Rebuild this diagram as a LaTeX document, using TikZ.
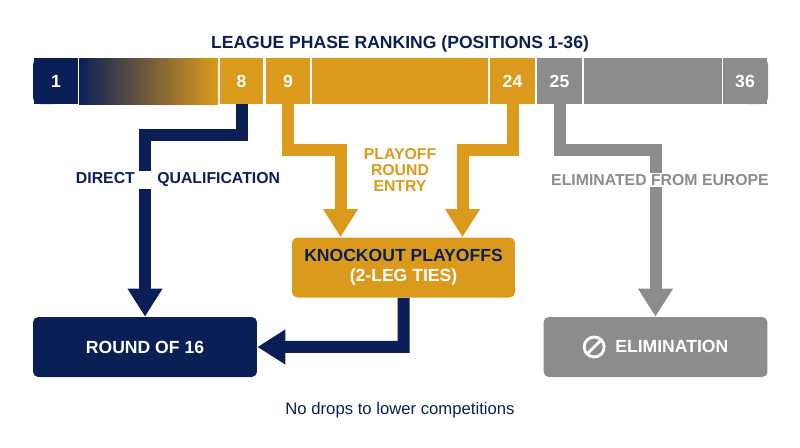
\documentclass[tikz,border=0pt]{standalone}
\usepackage{fontspec}
\setmainfont{Liberation Sans}
\usetikzlibrary{positioning,arrows.meta,calc}
\definecolor{navy}{HTML}{0B1F57}
\definecolor{gold}{HTML}{DC9A1C}
\definecolor{stone}{HTML}{8C8C8C}
\begin{document}
\begin{tikzpicture}[x=0.02cm,y=-0.02cm,font=\bfseries\fontsize{9}{11}\selectfont]
\tikzstyle{seg}=[minimum height=0.92cm,inner sep=0pt,text=white,font=\bfseries\fontsize{10}{12}\selectfont]
\tikzstyle{box}=[rounded corners=3pt,minimum width=4.48cm,minimum height=1.2cm,align=center,text=white,font=\bfseries\fontsize{10}{12.5}\selectfont]
\tikzstyle{flow}=[line width=0.24cm,-{Triangle[width=0.66cm,length=0.56cm]}]
\useasboundingbox (0,0) rectangle (800,447);
\node [text=navy,font=\bfseries\fontsize{10}{12}\selectfont] at (400,44) (title) {LEAGUE PHASE RANKING (POSITIONS 1-36)};
% ranking bar
\fill [navy,rounded corners=4pt] (33,58) rectangle (60,104);
\fill [stone,rounded corners=4pt] (740,58) rectangle (768,104);
\node [seg,fill=navy,minimum width=0.9cm] at (56,81) (s1) {1};
\shade [left color=navy,right color=gold] (79,58) rectangle (218,104);
\node [seg,fill=gold,minimum width=0.86cm] at (241.5,81) (s8) {8};
\node [seg,fill=gold,minimum width=0.88cm] at (288,81) (s9) {9};
\fill [gold] (312,58) rectangle (488,104);
\node [seg,fill=gold,minimum width=0.9cm] at (512.5,81) (s24) {24};
\node [seg,fill=stone,minimum width=0.9cm] at (559.5,81) (s25) {25};
\fill [stone] (584,58) rectangle (722,104);
\node [seg,fill=stone,minimum width=0.88cm] at (745,81) (s36) {36};
% outcome boxes
\node [box,fill=gold,minimum width=4.46cm] at (403.5,267.5) (ko) {\textcolor{navy}{KNOCKOUT PLAYOFFS}\\[-1pt](2-LEG TIES)};
\node [box,fill=navy] at (145,347) (r16) {ROUND OF 16};
\node [box,fill=stone] at (655.5,347) (elim) {\tikz[x=1cm,y=1cm,baseline=-0.6ex]{\draw[white,line width=1.6pt] (0,0) circle (0.2) (-0.13,-0.13) -- (0.13,0.13);}\ \ ELIMINATION};
% flows
\draw [flow,navy] (s8.south) -- ++(0,31) -| (r16.north);
\draw [flow,gold] (s9.south) -- ++(0,46) -| ($(ko.north)+(-63,0)$);
\draw [flow,gold] (s24.south) -- ++(0,46) -| ($(ko.north)+(59,0)$);
\draw [flow,stone] (s25.south) -- ++(0,46) -| (elim.north);
\draw [flow,navy] (ko.south) -- ++(0,49) -- (r16.east);
% labels
\node [fill=white,text=navy,inner sep=1pt] at (178,180) (direct) {DIRECT\hspace{0.45cm}QUALIFICATION};
\node [text=gold,align=center] at (400,170) (entry) {PLAYOFF\\[-2pt]ROUND\\[-2pt]ENTRY};
\node [fill=white,text=stone,inner sep=1pt] at (660,180) (gone) {ELIMINATED FROM EUROPE};
\node [text=navy,font=\fontsize{9.5}{11}\selectfont] at (400,410) (note) {No drops to lower competitions};
\end{tikzpicture}
\end{document}
